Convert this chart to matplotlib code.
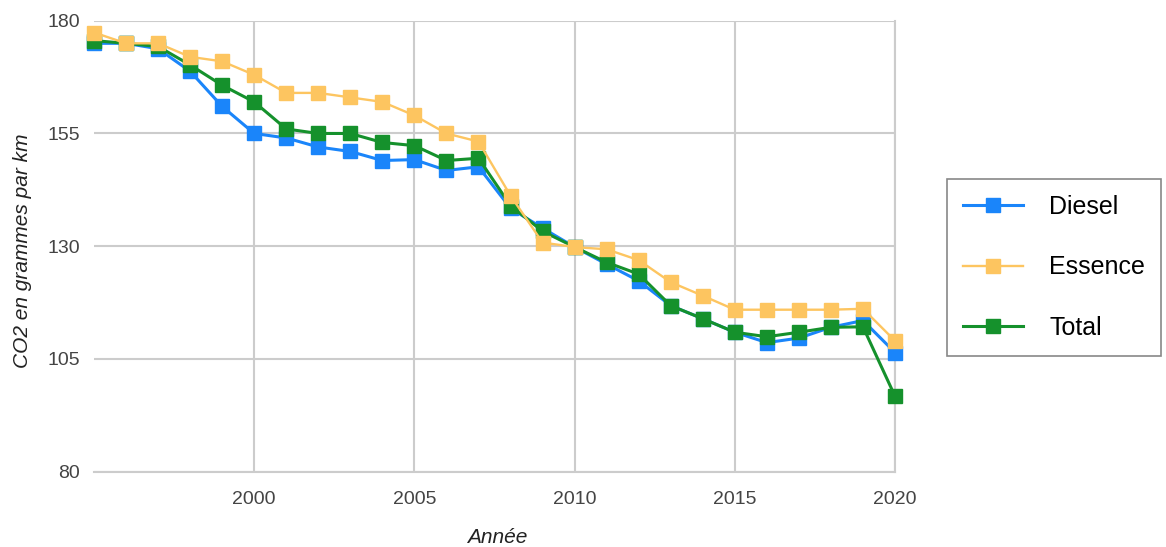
import matplotlib.pyplot as plt

plt.rcParams['font.family'] = ['Liberation Sans', 'DejaVu Sans']

annees = list(range(1995, 2021))
diesel = [175.0, 175.0, 173.8, 168.8, 161.0, 155.0, 154.0, 152.0, 151.0, 149.0,
          149.2, 146.8, 147.6, 138.4, 134.0, 129.8, 126.0, 122.3, 116.8, 113.9,
          110.9, 108.6, 109.6, 112.0, 113.5, 106.4]
essence = [177.4, 175.0, 175.0, 172.0, 171.0, 168.0, 164.0, 164.0, 163.0, 162.0,
           159.0, 155.0, 153.2, 141.2, 130.8, 129.8, 129.3, 126.9, 122.0, 119.0,
           115.9, 115.9, 115.9, 115.9, 116.1, 109.0]
total = [175.6, 175.0, 174.3, 170.2, 165.7, 162.0, 156.0, 155.0, 155.0, 153.0,
         152.3, 149.0, 149.5, 139.0, 133.3, 129.8, 126.4, 123.8, 116.8, 113.9,
         110.9, 109.9, 110.9, 112.0, 112.1, 96.7]

yticks = [80, 105, 130, 155, 180]
xticks = [2000, 2005, 2010, 2015, 2020]

c_diesel = '#1a85fa'
c_essence = '#fdc560'
c_total = '#15912c'
grille = '#cccccc'
texte = '#444444'

fig = plt.figure(figsize=(11.66, 5.47), dpi=100)
ax = fig.add_axes([0.0806, 0.138, 0.687, 0.824])

# ordre de tracé : l'essence passe devant, le diesel derrière
l1, = ax.plot(annees, diesel, color=c_diesel, lw=2.2, marker='s', ms=10,
              mec=c_diesel, label='Diesel', zorder=3, clip_on=False)
l3, = ax.plot(annees, total, color=c_total, lw=2.2, marker='s', ms=10,
              mec=c_total, label='Total', zorder=4, clip_on=False)
l2, = ax.plot(annees, essence, color=c_essence, lw=1.7, marker='s', ms=10,
              mec=c_essence, label='Essence', zorder=5, clip_on=False)

ax.set_xlim(1995, 2020)
ax.set_ylim(80, 180)
ax.set_xticks(xticks)
ax.set_yticks(yticks)
ax.grid(True, color=grille, lw=1.5)
ax.set_axisbelow(True)
ax.tick_params(length=0, labelsize=14, labelcolor=texte)
ax.tick_params(axis='x', pad=14)
ax.tick_params(axis='y', pad=10)
for s in ['left', 'top']:
    ax.spines[s].set_visible(False)
for s in ['bottom', 'right']:
    ax.spines[s].set_color(grille)
    ax.spines[s].set_linewidth(1.5)

ax.set_ylabel('CO2 en grammes par km', fontsize=15, style='italic', color='#222222')
ax.yaxis.set_label_coords(-0.077, 0.49)
ax.set_xlabel('Année', fontsize=15, style='italic', color='#222222')
ax.xaxis.set_label_coords(0.503, -0.125)

leg = fig.legend(handles=[l1, l2, l3], loc='center left',
                 bbox_to_anchor=(0.812, 0.511), fontsize=18,
                 handlelength=2.4, handletextpad=1.05, labelspacing=1.45,
                 borderpad=0.65, borderaxespad=0, fancybox=False, framealpha=1,
                 edgecolor='#888888')
leg.get_frame().set_linewidth(1.2)

plt.savefig('out.png', dpi=100)
